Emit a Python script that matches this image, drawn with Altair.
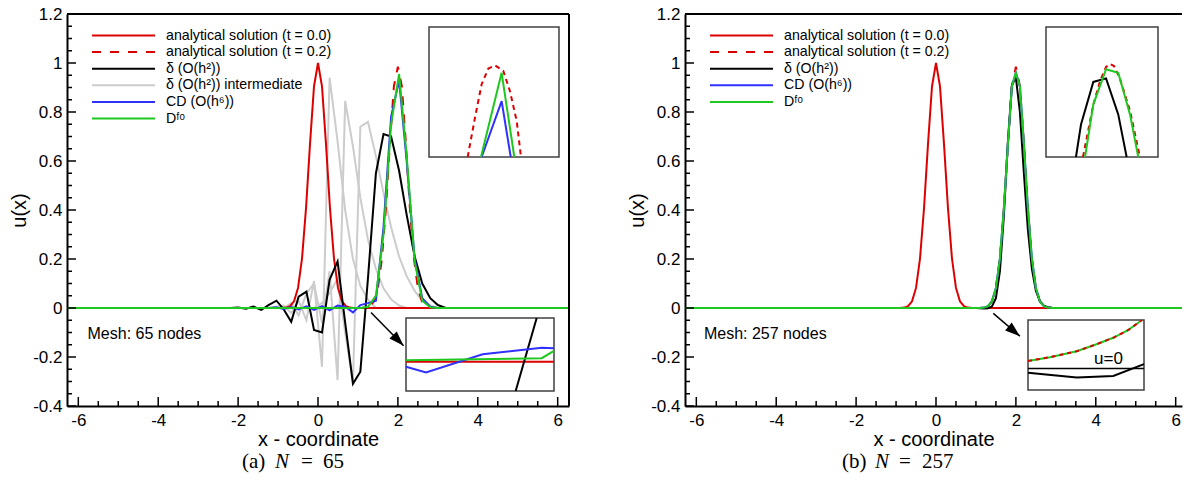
import altair as alt
import pandas as pd

# ---------------------------------------------------------------- data
XD_L = [-6.283185, 6.283185]
XD_R = [-6.283185, 6.158]
YD = [-0.4, 1.2]

# analytical solution t = 0.0 (same on both meshes)
A0_X = [-6.283185, -1.0, -0.9, -0.8, -0.7, -0.6, -0.5, -0.4, -0.3, -0.2, -0.1, 0.0,
        0.1, 0.2, 0.3, 0.4, 0.5, 0.6, 0.7, 0.8, 0.9, 1.0, 6.283185]
A0_Y = [0, 0, 0.0003, 0.0017, 0.0074, 0.027, 0.082, 0.202, 0.407, 0.670, 0.905, 1.0,
        0.905, 0.670, 0.407, 0.202, 0.082, 0.027, 0.0074, 0.0017, 0.0003, 0, 0]
# analytical solution t = 0.2
A2_X = [-6.283185, 1.0, 1.1, 1.2, 1.3, 1.4, 1.5, 1.6, 1.7, 1.8, 1.9, 2.0,
        2.1, 2.2, 2.3, 2.4, 2.5, 2.6, 2.7, 2.8, 2.9, 3.0, 6.283185]
A2_Y = [0, 0, 0.0003, 0.0017, 0.0074, 0.027, 0.082, 0.202, 0.407, 0.670, 0.905, 0.985,
        0.905, 0.670, 0.407, 0.202, 0.082, 0.027, 0.0074, 0.0017, 0.0003, 0, 0]

# ---- N = 65
L_DELTA_X = [-6.283185, -2.2, -2.0, -1.8, -1.62, -1.42, -1.24, -1.04, -0.86, -0.67, -0.485, -0.29,
             -0.1, 0.1, 0.29, 0.49, 0.68, 0.875, 1.06, 1.25, 1.45, 1.64, 1.83, 2.03, 2.22,
             2.42, 2.61, 2.81, 3.0, 3.2, 6.283185]
L_DELTA_Y = [0, 0, 0.002, -0.003, 0.006, -0.008, 0.012, 0.03, -0.005, -0.056, 0.046, 0.067,
             -0.09, -0.1, 0.115, 0.19, -0.06, -0.309, -0.26, 0.12, 0.55, 0.71, 0.70, 0.56, 0.38,
             0.21, 0.10, 0.04, 0.012, 0.0, 0]
G1_X = [-1.24, -1.04, -0.86, -0.67, -0.485, -0.29, -0.1, 0.1, 0.29, 0.49, 0.68, 0.875, 1.06, 1.25, 1.45]
G1_Y = [0, 0.005, 0.01, -0.02, 0.03, -0.05, 0.11, -0.24, 0.94, 0.68, 0.40, 0.20, 0.09, 0.035, 0]
G2_X = [-0.86, -0.67, -0.485, -0.29, -0.1, 0.1, 0.29, 0.49, 0.68, 0.875, 1.06, 1.25, 1.45, 1.64,
        1.83, 2.03, 2.22]
G2_Y = [0, 0.02, -0.03, 0.06, 0.10, -0.06, 0.15, -0.295, 0.845, 0.66, 0.45, 0.28, 0.16, 0.08,
        0.035, 0.01, 0]
G3_X = [-0.1, 0.1, 0.29, 0.49, 0.68, 0.875, 1.06, 1.25, 1.45, 1.64, 1.83, 2.03, 2.22, 2.42, 2.61,
        2.81, 3.0]
G3_Y = [0, 0.02, 0.06, 0.12, -0.10, -0.30, 0.74, 0.76, 0.62, 0.47, 0.33, 0.21, 0.13, 0.07, 0.03,
        0.01, 0]
L_CD_X = [-6.283185, -1.24, -1.04, -0.86, -0.67, -0.485, -0.29, -0.1, 0.1, 0.29, 0.49, 0.68, 0.875,
          1.06, 1.25, 1.45, 1.64, 1.83, 2.03, 2.22, 2.42, 2.61, 2.81, 3.0, 6.283185]
L_CD_Y = [0, 0, 0.003, -0.004, 0.004, -0.006, 0.007, -0.008, 0.008, -0.01, 0.01, 0.005, -0.018,
          0.012, 0.02, 0.03, 0.33, 0.78, 0.93, 0.60, 0.20, 0.04, 0.005, 0, 0]
L_DF_X = [-6.283185, 1.06, 1.25, 1.45, 1.64, 1.83, 2.03, 2.22, 2.42, 2.61, 2.81, 3.0, 6.283185]
L_DF_Y = [0, 0, 0.005, 0.05, 0.30, 0.75, 0.955, 0.62, 0.19, 0.03, 0.003, 0, 0]

# ---- N = 257
R_DELTA_X = [-6.283185, 1.0, 1.1, 1.2, 1.3, 1.4, 1.5, 1.6, 1.7, 1.8, 1.9, 2.0, 2.1, 2.2,
             2.3, 2.4, 2.5, 2.6, 2.7, 2.8, 2.9, 3.0, 6.283185]
R_DELTA_Y = [0, 0, -0.001, -0.002, -0.001, 0.006, 0.04, 0.15, 0.38, 0.68, 0.91, 0.94, 0.80, 0.55,
             0.32, 0.16, 0.07, 0.028, 0.01, 0.003, 0.001, 0, 0]
R_CD_X = A2_X
R_CD_Y = [0, 0, 0.0003, 0.0017, 0.0074, 0.027, 0.082, 0.202, 0.407, 0.670, 0.905, 0.96,
          0.905, 0.670, 0.407, 0.202, 0.082, 0.027, 0.0074, 0.0017, 0.0003, 0, 0]
R_DF_X = A2_X
R_DF_Y = R_CD_Y

# ---- insets (zoomed views)
LI1_DOM = ([1.6, 2.4], [0.7, 1.1])
LI1_A2 = ([1.838, 1.883, 1.924, 1.965, 2.006, 2.057, 2.098, 2.14, 2.166],
          [0.70, 0.821, 0.924, 0.972, 0.982, 0.965, 0.903, 0.81, 0.70])
LI1_DF = ([1.92, 2.047, 2.125], [0.70, 0.959, 0.70])
LI1_CD = ([1.924, 2.047, 2.103], [0.70, 0.872, 0.70])

LI2_DOM = ([0.5, 1.5], [-0.02, 0.03])
LI2_A0 = ([0.5, 1.5], [0.0, 0.0])
LI2_DF = ([0.5, 1.417, 1.5], [0.001, 0.0025, 0.0075])
LI2_CD = ([0.5, 0.635, 1.018, 1.417, 1.5], [-0.0034, -0.0073, 0.0052, 0.0096, 0.0092])
LI2_DELTA = ([1.241, 1.383], [-0.02, 0.03])

RI1_DOM = ([1.6, 2.4], [0.7, 1.1])
RI1_DF = ([1.879, 1.938, 2.029, 2.116, 2.2, 2.259], [0.70, 0.862, 0.970, 0.959, 0.831, 0.70])
RI1_DELTA = ([1.814, 1.85, 1.938, 2.029, 2.116, 2.176], [0.70, 0.80, 0.931, 0.942, 0.831, 0.70])
RI1_A2 = ([1.864, 1.936, 1.986, 2.029, 2.057, 2.086, 2.129, 2.2, 2.271],
          [0.70, 0.857, 0.934, 0.977, 0.986, 0.98, 0.94, 0.842, 0.70])

RI2_DOM = ([1.0, 1.6], [-0.004, 0.009])
RI2_DF = ([1.0, 1.114, 1.252, 1.347, 1.441, 1.517, 1.59],
          [0.0014, 0.0021, 0.0032, 0.0044, 0.0057, 0.0071, 0.009])
RI2_DELTA = ([1.0, 1.252, 1.441, 1.6], [-0.0008, -0.0017, -0.0014, 0.0008])
RI2_ZERO = ([1.0, 1.6], [0.0, 0.0])

LABELS = ["analytical solution (t = 0.0)", "analytical solution (t = 0.2)", "δ (O(h²))",
          "δ (O(h²)) intermediate", "CD (O(h⁶))", "Dᶠᵒ"]

X_MAJOR = [-6, -4, -2, 0, 2, 4, 6]
X_MINOR = [-5.5, -5, -4.5, -3.5, -3, -2.5, -1.5, -1, -0.5, 0.5, 1, 1.5, 2.5, 3, 3.5, 4.5, 5, 5.5]
Y_MAJOR = [-0.4, -0.2, 0, 0.2, 0.4, 0.6, 0.8, 1.0, 1.2]
Y_MINOR = [-0.35, -0.3, -0.25, -0.15, -0.1, -0.05, 0.05, 0.1, 0.15, 0.25, 0.3, 0.35,
           0.45, 0.5, 0.55, 0.65, 0.7, 0.75, 0.85, 0.9, 0.95, 1.05, 1.1, 1.15]

# ---------------------------------------------------------------- style
FONT = "Liberation Sans"
SERIF = "Liberation Serif"
RED, BLACK, GRAY, BLUE, GREEN = "#dd0000", "#000000", "#cccccc", "#3030ff", "#1ec81e"
COLORS = [RED, RED, BLACK, GRAY, BLUE, GREEN]
DASHES = [[1, 0], [9, 9], [1, 0], [1, 0], [1, 0], [1, 0]]
H = 392
W_L, W_R = 502, 497


def sc(domain, rng=None):
    kw = dict(domain=domain, nice=False, zero=False)
    if rng is not None:
        kw["range"] = rng
    return alt.Scale(**kw)


def line(xy, color, xs, ys, width=2.0, dash=None):
    xv, yv = xy
    df = pd.DataFrame({"x": xv, "y": yv, "i": list(range(len(xv)))})
    mk = dict(color=color, strokeWidth=width, clip=True)
    if dash:
        mk["strokeDash"] = dash
    return alt.Chart(df).mark_line(**mk).encode(
        x=alt.X("x:Q", scale=xs, axis=None),
        y=alt.Y("y:Q", scale=ys, axis=None),
        order="i:Q",
    )


def gray_layer(curves, xs, ys):
    rows = []
    for k, (xv, yv) in enumerate(curves):
        for i, (a, b) in enumerate(zip(xv, yv)):
            rows.append({"x": a, "y": b, "c": k, "i": i})
    return alt.Chart(pd.DataFrame(rows)).mark_line(color=GRAY, strokeWidth=2, clip=True).encode(
        x=alt.X("x:Q", scale=xs, axis=None), y=alt.Y("y:Q", scale=ys, axis=None),
        detail="c:N", order="i:Q")


def frame(dom, rng_x, rng_y):
    df = pd.DataFrame({"x": [dom[0][0]], "x2": [dom[0][1]], "y": [dom[1][0]], "y2": [dom[1][1]]})
    return alt.Chart(df).mark_rect(fill="white", stroke="#404040", strokeWidth=1.5).encode(
        x=alt.X("x:Q", scale=sc(dom[0], rng_x), axis=None), x2="x2:Q",
        y=alt.Y("y:Q", scale=sc(dom[1], rng_y), axis=None), y2="y2:Q")


def arrow(x0, y0, x1, y1, ang, xs, ys):
    ln = line(([x0, x1], [y0, y1]), BLACK, xs, ys, width=1.5)
    head = alt.Chart(pd.DataFrame({"x": [x1], "y": [y1]})).mark_point(
        shape="M0,0L0.34,1L-0.34,1Z", size=900, filled=True, color=BLACK, opacity=1,
        angle=ang, strokeWidth=0).encode(
        x=alt.X("x:Q", scale=xs, axis=None), y=alt.Y("y:Q", scale=ys, axis=None))
    return [ln, head]


def text_at(t, x, y, xs, ys, size=16, align="left"):
    return alt.Chart(pd.DataFrame({"t": [t], "x": [x], "y": [y]})).mark_text(
        font=FONT, fontSize=size, align=align, baseline="middle", color=BLACK).encode(
        x=alt.X("x:Q", scale=xs, axis=None), y=alt.Y("y:Q", scale=ys, axis=None), text="t:N")


def legend(labels):
    df = pd.DataFrame({"lab": labels, "row": list(range(len(labels)))})
    ysc = sc([0, 5], [21.5, 104.5])
    col = alt.Color("lab:N", scale=alt.Scale(domain=LABELS, range=COLORS), legend=None)
    dsh = alt.StrokeDash("lab:N", scale=alt.Scale(domain=LABELS, range=DASHES), legend=None)
    rules = alt.Chart(df).mark_rule(strokeWidth=2).encode(
        x=alt.value(25), x2=alt.value(88), y=alt.Y("row:Q", scale=ysc, axis=None),
        color=col, strokeDash=dsh)
    txt = alt.Chart(df).mark_text(font=FONT, fontSize=14.2, align="left", baseline="middle",
                                  color=BLACK).encode(
        x=alt.value(99), y=alt.Y("row:Q", scale=ysc, axis=None), text="lab:N")
    return [rules, txt]


def ticks(xs, ys):
    out = []
    for vals, ln in ((X_MAJOR, 9), (X_MINOR, 5)):
        out.append(alt.Chart(pd.DataFrame({"v": vals})).mark_rule(color=BLACK, strokeWidth=1.5).encode(
            x=alt.X("v:Q", scale=xs, axis=None), y=alt.value(H), y2=alt.value(H - ln)))
    for vals, ln in ((Y_MAJOR, 9), (Y_MINOR, 5)):
        out.append(alt.Chart(pd.DataFrame({"v": vals})).mark_rule(color=BLACK, strokeWidth=1.5).encode(
            y=alt.Y("v:Q", scale=ys, axis=None), x=alt.value(0), x2=alt.value(ln)))
    return out


def axes(xd, W, right_border=True):
    xa = alt.Axis(values=X_MAJOR, labelExpr="toString(datum.value)", title="x - coordinate",
                  ticks=False, tickSize=0, grid=False, domain=True, domainColor=BLACK, domainWidth=2,
                  labelFont=FONT, labelFontSize=17, labelColor=BLACK, labelPadding=6,
                  titleFont=FONT, titleFontSize=20, titleFontWeight="normal", titleColor=BLACK,
                  titlePadding=1, labelFlush=False)
    ya = alt.Axis(values=Y_MAJOR, labelExpr="toString(datum.value)", title="u(x)",
                  ticks=False, tickSize=0, grid=False, domain=True, domainColor=BLACK, domainWidth=2,
                  labelFont=FONT, labelFontSize=17, labelColor=BLACK, labelPadding=5,
                  titleFont=FONT, titleFontSize=20, titleFontWeight="normal", titleColor=BLACK,
                  titlePadding=3, labelFlush=False)
    base = alt.Chart(pd.DataFrame({"x": [0.0], "y": [0.0]})).mark_point(opacity=0).encode(
        x=alt.X("x:Q", scale=sc(xd), axis=xa), y=alt.Y("y:Q", scale=sc(YD), axis=ya))
    out = [base]
    out.append(alt.Chart(pd.DataFrame({"a": [0]})).mark_rule(color=BLACK, strokeWidth=2).encode(
        x=alt.value(0), x2=alt.value(W), y=alt.value(0)))
    if right_border:
        out.append(alt.Chart(pd.DataFrame({"a": [0]})).mark_rule(color=BLACK, strokeWidth=2).encode(
            x=alt.value(W), y=alt.value(0), y2=alt.value(H)))
    return out


def caption(parts):
    out = []
    for t, x, style in parts:
        out.append(alt.Chart(pd.DataFrame({"t": [t]})).mark_text(
            font=SERIF, fontSize=21, fontStyle=style, align="left", baseline="alphabetic",
            color=BLACK).encode(x=alt.value(x), y=alt.value(454), text="t:N"))
    return out


# ---------------------------------------------------------------- left panel
xs, ys = sc(XD_L), sc(YD)
li1x, li1y = sc(LI1_DOM[0], [362, 492]), sc(LI1_DOM[1], [143, 13])
li2x, li2y = sc(LI2_DOM[0], [339, 487]), sc(LI2_DOM[1], [377, 304])
left_layers = [
    gray_layer([(G1_X, G1_Y), (G2_X, G2_Y), (G3_X, G3_Y)], xs, ys),
    line((A0_X, A0_Y), RED, xs, ys),
    line((A2_X, A2_Y), RED, xs, ys, dash=[9, 9]),
    line((L_DELTA_X, L_DELTA_Y), BLACK, xs, ys),
    line((L_CD_X, L_CD_Y), BLUE, xs, ys),
    line((L_DF_X, L_DF_Y), GREEN, xs, ys),
    frame(LI1_DOM, [362, 492], [143, 13]),
    line(LI1_A2, RED, li1x, li1y, dash=[5, 4]),
    line(LI1_CD, BLUE, li1x, li1y),
    line(LI1_DF, GREEN, li1x, li1y),
    frame(LI2_DOM, [339, 487], [377, 304]),
    line(LI2_A0, RED, li2x, li2y),
    line(LI2_DELTA, BLACK, li2x, li2y),
    line(LI2_CD, BLUE, li2x, li2y),
    line(LI2_DF, GREEN, li2x, li2y),
    *arrow(1.327, -0.018, 2.143, -0.154, 135.6, xs, ys),
    text_at("Mesh: 65 nodes", -5.77, -0.105, xs, ys),
    *legend(LABELS),
    *ticks(xs, ys),
    *axes(XD_L, W_L, True),
    *caption([("(a)", 175, "normal"), ("N", 208, "italic"), ("=", 234, "normal"),
              ("65", 256, "normal")]),
]
left = alt.layer(*left_layers).resolve_scale(x="independent", y="independent").properties(
    width=W_L, height=H)

# ---------------------------------------------------------------- right panel
xr, yr = sc(XD_R), sc(YD)
ri1x, ri1y = sc(RI1_DOM[0], [361, 473]), sc(RI1_DOM[1], [143, 13])
ri2x, ri2y = sc(RI2_DOM[0], [343, 459]), sc(RI2_DOM[1], [376, 306])
right_layers = [
    line((A0_X, A0_Y), RED, xr, yr),
    line((A2_X, A2_Y), RED, xr, yr, dash=[9, 9]),
    line((R_DELTA_X, R_DELTA_Y), BLACK, xr, yr),
    line((R_CD_X, R_CD_Y), BLUE, xr, yr),
    line((R_DF_X, R_DF_Y), GREEN, xr, yr),
    frame(RI1_DOM, [361, 473], [143, 13]),
    line(RI1_DELTA, BLACK, ri1x, ri1y),
    line(RI1_A2, RED, ri1x, ri1y, dash=[5, 4]),
    line(RI1_DF, GREEN, ri1x, ri1y),
    frame(RI2_DOM, [343, 459], [376, 306]),
    line(RI2_ZERO, BLACK, ri2x, ri2y, width=1.5),
    line(RI2_DELTA, BLACK, ri2x, ri2y),
    line(RI2_DF, GREEN, ri2x, ri2y),
    line(RI2_DF, RED, ri2x, ri2y, dash=[4, 4]),
    text_at("u=0", 1.416, 0.0017, ri2x, ri2y, size=17, align="center"),
    *arrow(1.434, -0.022, 2.10, -0.115, 130.2, xr, yr),
    text_at("Mesh: 257 nodes", -5.81, -0.105, xr, yr),
    *legend([LABELS[0], LABELS[1], LABELS[2], LABELS[4], LABELS[5]]),
    *ticks(xr, yr),
    *axes(XD_R, W_R, False),
    *caption([("(b)", 157, "normal"), ("N", 190, "italic"), ("=", 214, "normal"),
              ("257", 237, "normal")]),
]
right = alt.layer(*right_layers).resolve_scale(x="independent", y="independent").properties(
    width=W_R, height=H)

chart = alt.hconcat(left, right, spacing=57).properties(
    padding={"left": 9, "top": 5, "right": 0, "bottom": 5}
).configure_view(stroke=None)

chart.save("out.html", embed_options={"renderer": "svg", "actions": False})
